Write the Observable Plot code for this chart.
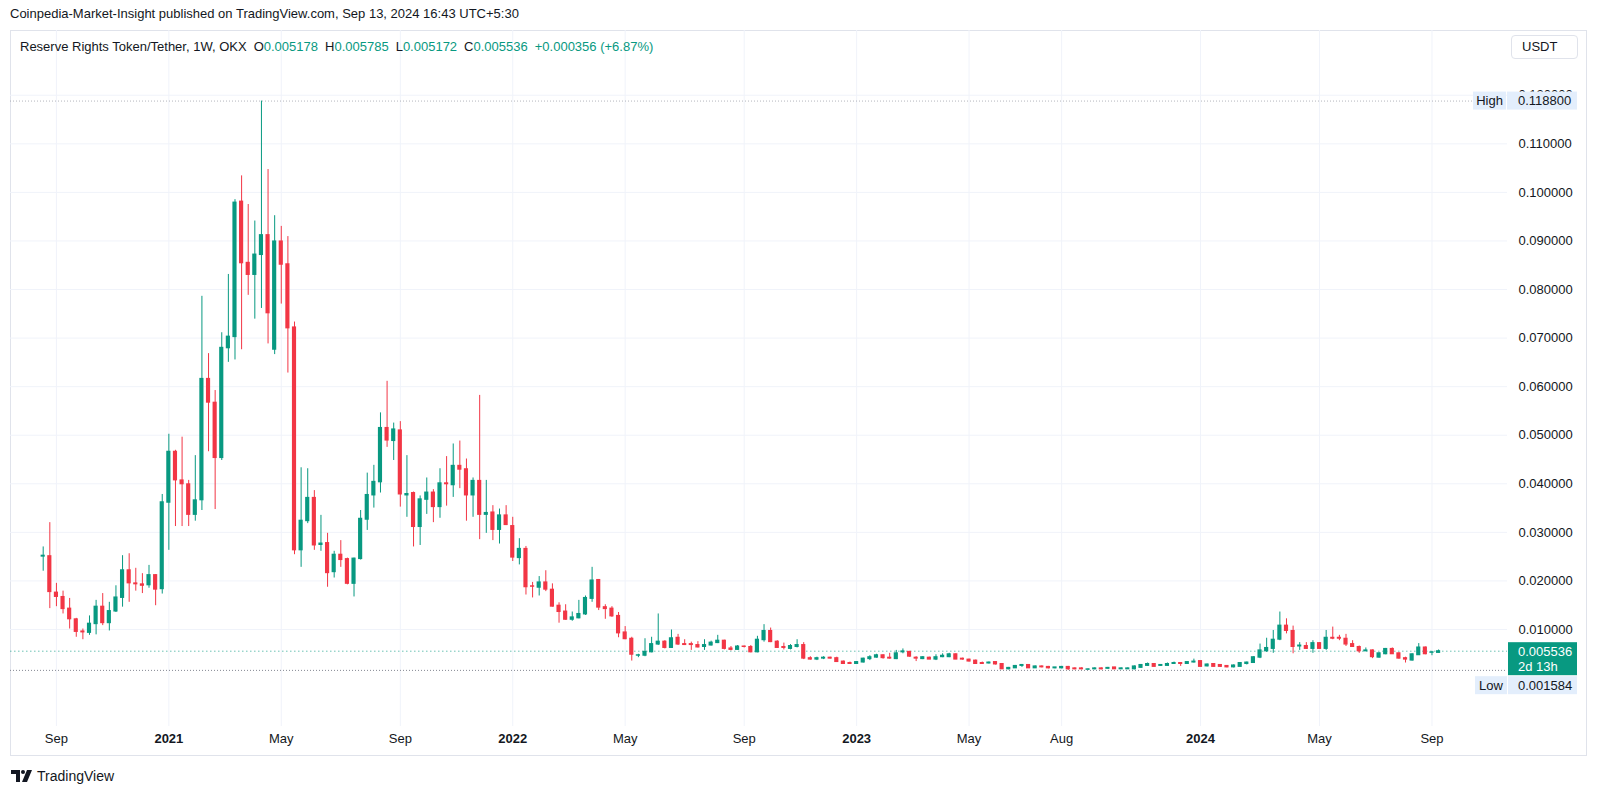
<!DOCTYPE html>
<html>
<head>
<meta charset="utf-8">
<script src="https://cdn.jsdelivr.net/npm/d3@7"></script>
<script src="https://cdn.jsdelivr.net/npm/@observablehq/plot@0.6"></script>
<style>
  html, body { margin: 0; padding: 0; background: #fff; }
  body { font-family: "Liberation Sans", Arial, sans-serif; color: #131722; }
  #page { position: relative; width: 1600px; height: 796px; overflow: hidden; }
  #frame { position: absolute; left: 10px; top: 30px; width: 1577px; height: 726px; border: 1px solid #e0e3eb; box-sizing: border-box; }
  #chart { position: absolute; left: 0; top: 30px; }
  #publisher { position: absolute; left: 10px; top: 6px; font-size: 13px; color: #131722; white-space: nowrap; }
  #legend { position: absolute; left: 20px; top: 39px; font-size: 13px; color: #131722; white-space: nowrap; }
  #legend .v { color: #089981; }
  #legend .k { margin-left: 7px; }
  #usdt { position: absolute; left: 1511px; top: 35px; width: 67px; height: 24px; border: 1px solid #e0e3eb; border-radius: 4px; box-sizing: border-box; font-size: 13px; line-height: 22px; padding-left: 10px; }
  #footer { position: absolute; left: 11px; top: 768px; font-size: 14px; color: #131722; display: flex; align-items: center; gap: 4px; }
</style>
</head>
<body>
<div id="page">
  <div id="publisher">Coinpedia-Market-Insight published on TradingView.com, Sep 13, 2024 16:43 UTC+5:30</div>
  <div id="frame"></div>
  <div id="chart"></div>
  <div id="legend">Reserve Rights Token/Tether, 1W, OKX<span class="k">O</span><span class="v">0.005178</span><span class="k">H</span><span class="v">0.005785</span><span class="k">L</span><span class="v">0.005172</span><span class="k">C</span><span class="v">0.005536</span><span class="v" style="margin-left:7px">+0.000356 (+6.87%)</span></div>
  <div id="usdt">USDT</div>
  <div id="footer"><svg width="22" height="12" viewBox="0 0 22 12"><path d="M0 0h9v12H5V4H0z" fill="#131722"/><circle cx="12" cy="2" r="2" fill="#131722"/><path d="M16 0h5l-5 12h-5z" fill="#131722"/></svg><span>TradingView</span></div>
</div>
<script>
// ---- Data: weekly candles RSR/USDT (OKX), first week starting 2020-08-24 ----
const firstWeek = "2020-08-24";
const open = [
0.0250,0.0251,0.0176,0.0167,0.0143,0.0121,0.0096,0.0093,0.0111,0.0147,
0.0113,0.0137,0.0165,0.0222,0.0195,0.0193,0.0191,0.0212,0.0183,0.0361,
0.0466,0.0407,0.0399,0.0336,0.0366,0.0616,0.0567,0.0453,0.0679,0.0702,
0.0981,0.0855,0.0830,0.0871,0.0912,0.0676,0.0899,0.0852,0.0722,0.0263,
0.0323,0.0371,0.0274,0.0278,0.0218,0.0254,0.0245,0.0194,0.0245,0.0326,
0.0376,0.0403,0.0515,0.0488,0.0510,0.0376,0.0381,0.0311,0.0367,0.0382,
0.0352,0.0401,0.0397,0.0437,0.0430,0.0376,0.0406,0.0336,0.0341,0.0305,
0.0335,0.0313,0.0247,0.0266,0.0189,0.0186,0.0197,0.0182,0.0149,0.0137,
0.0120,0.0123,0.0131,0.0163,0.0202,0.0146,0.0143,0.0128,0.0094,0.0081,
0.0046,0.0046,0.0053,0.0069,0.0075,0.0062,0.0083,0.0070,0.0070,0.0068,
0.0064,0.0067,0.0072,0.0077,0.0061,0.0058,0.0065,0.0064,0.0053,0.0078,
0.0097,0.0075,0.0064,0.0060,0.0064,0.0068,0.0041,0.0038,0.0040,0.0042,
0.0041,0.0034,0.0031,0.0029,0.0032,0.0039,0.0042,0.0047,0.0042,0.0039,
0.0053,0.0054,0.0042,0.0039,0.0042,0.0038,0.0043,0.0043,0.0049,0.0040,
0.0038,0.0036,0.0031,0.0030,0.0033,0.0029,0.0018,0.0020,0.0025,0.0027,
0.0020,0.0024,0.0023,0.0020,0.0020,0.0023,0.0020,0.0020,0.0017,0.0018,
0.0020,0.0019,0.0022,0.0018,0.0018,0.0018,0.0021,0.0025,0.0029,0.0025,
0.0025,0.0029,0.0031,0.0029,0.0032,0.0035,0.0024,0.0029,0.0027,0.0025,
0.0022,0.0023,0.0029,0.0031,0.0042,0.0055,0.0060,0.0079,0.0108,0.0097,
0.0065,0.0066,0.0060,0.0072,0.0060,0.0083,0.0083,0.0081,0.0070,0.0064,
0.0055,0.0057,0.0042,0.0049,0.0060,0.0051,0.0041,0.0036,0.0047,0.0063,
0.0052,0.005178];
const high = [
0.0270,0.0320,0.0195,0.0179,0.0164,0.0123,0.0101,0.0128,0.0160,0.0174,
0.0156,0.0190,0.0252,0.0256,0.0226,0.0215,0.0232,0.0213,0.0378,0.0502,
0.0469,0.0496,0.0407,0.0458,0.0786,0.0668,0.0592,0.0711,0.0831,0.0985,
0.1034,0.0975,0.0941,0.1188,0.1047,0.0952,0.0930,0.0909,0.0733,0.0433,
0.0431,0.0386,0.0335,0.0298,0.0261,0.0283,0.0247,0.0247,0.0345,0.0422,
0.0438,0.0546,0.0611,0.0525,0.0528,0.0458,0.0383,0.0375,0.0412,0.0388,
0.0431,0.0456,0.0482,0.0488,0.0451,0.0412,0.0582,0.0407,0.0355,0.0348,
0.0355,0.0331,0.0287,0.0271,0.0197,0.0209,0.0221,0.0194,0.0155,0.0151,
0.0136,0.0160,0.0169,0.0228,0.0203,0.0151,0.0147,0.0135,0.0106,0.0084,
0.0049,0.0081,0.0084,0.0132,0.0077,0.0099,0.0090,0.0079,0.0074,0.0075,
0.0079,0.0076,0.0088,0.0078,0.0065,0.0067,0.0066,0.0067,0.0086,0.0110,
0.0103,0.0077,0.0072,0.0069,0.0079,0.0073,0.0044,0.0043,0.0044,0.0043,
0.0043,0.0035,0.0033,0.0034,0.0041,0.0046,0.0049,0.0048,0.0051,0.0057,
0.0060,0.0055,0.0044,0.0044,0.0043,0.0048,0.0050,0.0051,0.0050,0.0041,
0.0039,0.0037,0.0033,0.0033,0.0033,0.0029,0.0022,0.0026,0.0028,0.0027,
0.0025,0.0025,0.0024,0.0022,0.0024,0.0024,0.0021,0.0021,0.0019,0.0021,
0.0021,0.0022,0.0022,0.0021,0.0021,0.0025,0.0028,0.0031,0.0030,0.0028,
0.0031,0.0033,0.0031,0.0033,0.0039,0.0035,0.0029,0.0029,0.0027,0.0025,
0.0027,0.0032,0.0033,0.0044,0.0070,0.0082,0.0098,0.0136,0.0122,0.0107,
0.0073,0.0073,0.0077,0.0073,0.0098,0.0105,0.0088,0.0090,0.0077,0.0066,
0.0062,0.0058,0.0052,0.0061,0.0062,0.0052,0.0043,0.0050,0.0071,0.0064,
0.0055,0.005785];
const low = [
0.0220,0.0143,0.0147,0.0132,0.0101,0.0084,0.0079,0.0088,0.0089,0.0108,
0.0097,0.0135,0.0146,0.0156,0.0179,0.0174,0.0185,0.0149,0.0173,0.0263,
0.0312,0.0312,0.0312,0.0323,0.0345,0.0466,0.0347,0.0448,0.0650,0.0655,
0.0676,0.0788,0.0739,0.0761,0.0688,0.0666,0.0770,0.0628,0.0254,0.0228,
0.0318,0.0263,0.0261,0.0187,0.0206,0.0228,0.0192,0.0167,0.0243,0.0304,
0.0350,0.0381,0.0475,0.0448,0.0352,0.0331,0.0270,0.0273,0.0337,0.0320,
0.0329,0.0354,0.0372,0.0390,0.0323,0.0331,0.0285,0.0298,0.0283,0.0276,
0.0314,0.0240,0.0233,0.0171,0.0165,0.0169,0.0178,0.0146,0.0113,0.0119,
0.0117,0.0122,0.0129,0.0156,0.0139,0.0121,0.0125,0.0083,0.0079,0.0035,
0.0042,0.0044,0.0052,0.0067,0.0060,0.0061,0.0067,0.0067,0.0057,0.0062,
0.0057,0.0066,0.0071,0.0058,0.0056,0.0057,0.0062,0.0052,0.0052,0.0074,
0.0073,0.0062,0.0058,0.0058,0.0062,0.0038,0.0037,0.0036,0.0038,0.0039,
0.0032,0.0029,0.0028,0.0028,0.0031,0.0036,0.0041,0.0039,0.0039,0.0038,
0.0050,0.0043,0.0034,0.0038,0.0038,0.0036,0.0042,0.0042,0.0038,0.0037,
0.0033,0.0028,0.0029,0.0029,0.0027,0.0018,0.0017,0.0020,0.0022,0.0020,
0.0020,0.0021,0.0019,0.0019,0.0019,0.001584,0.0017,0.0017,0.0016,0.0017,
0.0017,0.0018,0.0018,0.0018,0.0018,0.0017,0.0020,0.0024,0.0023,0.0024,
0.0025,0.0029,0.0024,0.0028,0.0031,0.0023,0.0023,0.0023,0.0022,0.0021,
0.0021,0.0023,0.0027,0.0030,0.0040,0.0053,0.0051,0.0077,0.0091,0.0050,
0.0057,0.0059,0.0051,0.0059,0.0057,0.0079,0.0077,0.0065,0.0063,0.0051,
0.0055,0.0040,0.0041,0.0048,0.0049,0.0039,0.0031,0.0035,0.0047,0.0048,
0.0046,0.005172];
const close = [
0.0252,0.0177,0.0167,0.0142,0.0121,0.0095,0.0094,0.0112,0.0147,0.0113,
0.0138,0.0166,0.0222,0.0195,0.0193,0.0190,0.0212,0.0182,0.0362,0.0466,
0.0407,0.0399,0.0336,0.0366,0.0616,0.0567,0.0453,0.0680,0.0703,0.0979,
0.0854,0.0830,0.0872,0.0912,0.0751,0.0899,0.0851,0.0720,0.0263,0.0324,
0.0371,0.0273,0.0277,0.0216,0.0254,0.0243,0.0194,0.0246,0.0328,0.0377,
0.0404,0.0515,0.0489,0.0512,0.0378,0.0379,0.0311,0.0368,0.0382,0.0352,
0.0401,0.0399,0.0437,0.0429,0.0376,0.0406,0.0336,0.0340,0.0305,0.0335,
0.0315,0.0248,0.0266,0.0187,0.0188,0.0197,0.0182,0.0147,0.0136,0.0120,
0.0125,0.0132,0.0165,0.0201,0.0145,0.0142,0.0127,0.0092,0.0080,0.0048,
0.0047,0.0054,0.0070,0.0075,0.0062,0.0082,0.0069,0.0068,0.0068,0.0063,
0.0068,0.0073,0.0077,0.0060,0.0058,0.0065,0.0064,0.0053,0.0079,0.0097,
0.0074,0.0062,0.0062,0.0066,0.0068,0.0040,0.0038,0.0041,0.0042,0.0040,
0.0033,0.0029,0.0029,0.0033,0.0040,0.0043,0.0047,0.0041,0.0040,0.0051,
0.0055,0.0044,0.0040,0.0043,0.0038,0.0043,0.0046,0.0049,0.0038,0.0038,
0.0034,0.0029,0.0029,0.0032,0.0028,0.0018,0.0021,0.0025,0.0027,0.0020,
0.0024,0.0022,0.0020,0.0022,0.0023,0.0018,0.0018,0.0018,0.0018,0.0020,
0.0018,0.0021,0.0018,0.0020,0.0020,0.0024,0.0027,0.0029,0.0023,0.0027,
0.0029,0.0031,0.0029,0.0033,0.0034,0.0023,0.0028,0.0023,0.0023,0.0022,
0.0026,0.0031,0.0032,0.0043,0.0057,0.0062,0.0079,0.0108,0.0097,0.0064,
0.0067,0.0060,0.0072,0.0060,0.0083,0.0081,0.0081,0.0069,0.0064,0.0055,
0.0057,0.0043,0.0051,0.0060,0.0049,0.0040,0.0038,0.0049,0.0063,0.0049,
0.0053,0.005536];

const priceTicks = [0.01,0.02,0.03,0.04,0.05,0.06,0.07,0.08,0.09,0.10,0.11,0.12];
const timeTickDates = ["2020-09-07","2021-01-04","2021-05-03","2021-09-06","2022-01-03","2022-05-02","2022-09-05","2023-01-02","2023-05-01","2023-08-07","2024-01-01","2024-05-06","2024-09-02"];
const timeTickLabels = ["Sep","2021","May","Sep","2022","May","Sep","2023","May","Aug","2024","May","Sep"];
const periodHigh = 0.118800;
const periodLow = 0.001584;
const lastPrice = 0.005536;
const countdown = "2d 13h";

// ---- Build ----
const UP = "#089981", DOWN = "#F23645";
const DAY = 864e5, WEEK = 7 * DAY;
const t0 = new Date(firstWeek + "T00:00:00Z").getTime();
const candles = open.map((o, i) => {
  const c = close[i];
  return {date: new Date(t0 + i * WEEK), o, h: high[i], l: low[i], c,
          lo: Math.min(o, c), hi: Math.max(o, c), color: c >= o ? UP : DOWN};
});
const ticks = timeTickDates.map((d, i) => ({date: new Date(d + "T00:00:00Z"), label: timeTickLabels[i], year: /^\d{4}$/.test(timeTickLabels[i])}));

const W = 1600, H = 727;
const chart = Plot.plot({
  width: W, height: H,
  marginLeft: 10, marginRight: 93, marginTop: 0, marginBottom: 31,
  style: {fontFamily: "'Liberation Sans', Arial, sans-serif", fontSize: "13px", background: "transparent", overflow: "visible", color: "#131722"},
  x: {type: "utc", domain: [new Date(t0 - 4.945 * WEEK), new Date(t0 + 221.42 * WEEK)], axis: null},
  y: {domain: [-0.00997, 0.13333], axis: null},
  color: {type: "identity"},
  marks: [
    Plot.ruleY(priceTicks, {stroke: "#f0f3fa", strokeWidth: 1}),
    Plot.ruleX(ticks, {x: "date", stroke: "#f0f3fa", strokeWidth: 1}),
    Plot.ruleY([lastPrice], {stroke: UP, strokeOpacity: 0.6, strokeDasharray: "1.5,2.5"}),
    Plot.ruleY([periodHigh], {stroke: "#9598a1", strokeOpacity: 0.7, strokeDasharray: "1,2"}),
    Plot.ruleY([periodLow], {stroke: "#787b86", strokeOpacity: 0.9, strokeDasharray: "1,2"}),
    Plot.ruleX(candles, {x: "date", y1: "l", y2: "h", stroke: "color", strokeWidth: 1}),
    Plot.rect(candles, {x1: d => new Date(+d.date - 2.2 * DAY), x2: d => new Date(+d.date + 2.2 * DAY), y1: "lo", y2: "hi", fill: "color", insetTop: -0.5, insetBottom: -0.5}),
    Plot.text(priceTicks, {y: d => d, text: d => d.toFixed(6), frameAnchor: "right", dx: 11, textAnchor: "start", fill: "#131722", fontSize: 13}),
    Plot.text(ticks.filter(d => !d.year), {x: "date", text: "label", frameAnchor: "bottom", dy: 16, fill: "#131722", fontSize: 13}),
    Plot.text(ticks.filter(d => d.year), {x: "date", text: "label", frameAnchor: "bottom", dy: 16, fill: "#131722", fontSize: 13, fontWeight: "bold"})
  ]
});
document.getElementById("chart").appendChild(chart);

// ---- price-axis labels (High / Low / last price) ----
const ys = chart.scale("y");
const svg = d3.select(chart);
const g = svg.append("g").attr("font-family", "'Liberation Sans', Arial, sans-serif").attr("font-size", 13);
function box(x, y, w, h, fill) { g.append("rect").attr("x", x).attr("y", y).attr("width", w).attr("height", h).attr("fill", fill); }
function label(x, y, txt, fill, anchor) { g.append("text").attr("x", x).attr("y", y).attr("dy", "0.35em").attr("text-anchor", anchor || "start").attr("fill", fill).text(txt); }
const LB = "#e3eefc";
// High
const yh = ys.apply(periodHigh);
box(1507, yh - 9, 70, 18, LB); box(1473, yh - 9, 33, 18, LB);
label(1489.5, yh, "High", "#131722", "middle"); label(1518, yh, periodHigh.toFixed(6), "#131722");
// Last price
const yc = ys.apply(lastPrice);
box(1508, yc - 8.5, 69, 33, UP);
label(1518, yc + 1, lastPrice.toFixed(6), "#ffffff"); label(1518, yc + 16, countdown, "#ffffff");
// Low (pushed under the last-price label)
const yl = ys.apply(periodLow);
box(1508, yc + 25.5, 69, 18, LB); box(1475, yc + 25.5, 32, 18, LB);
label(1491, yc + 34.5, "Low", "#131722", "middle"); label(1518, yc + 34.5, periodLow.toFixed(6), "#131722");
</script>
</body>
</html>
